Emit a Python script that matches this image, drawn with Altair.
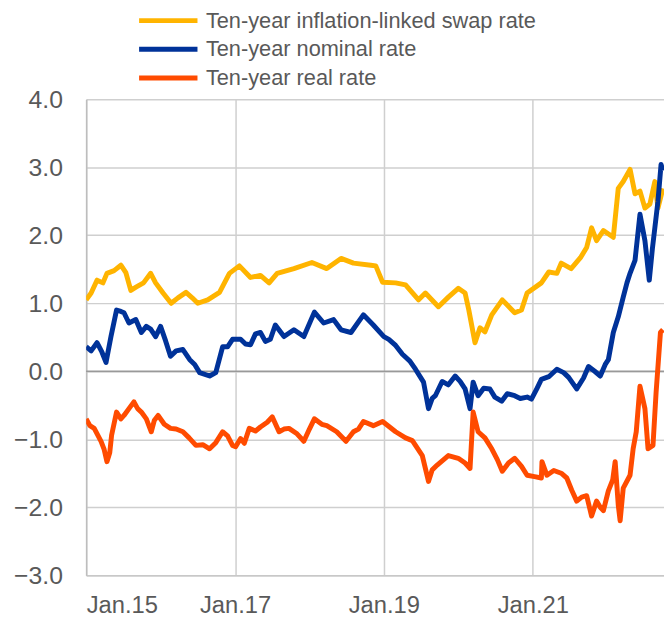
import altair as alt
import pandas as pd

series_names = ["Ten-year inflation-linked swap rate", "Ten-year nominal rate", "Ten-year real rate"]
series_colors = ["#FFB400", "#003299", "#FF4B00"]
year_ticks = [2015, 2017, 2019, 2021]

# x positions as months since January 2015
swap_months = [0, 0.8, 1.75, 2.7, 3.35, 4.5, 5.6, 6.4, 7.2, 8.1, 9.25, 10.4, 11.2, 12.4, 13.7, 14.8, 16.1, 17.1,
               18.0, 19.6, 21.5, 23.1, 24.7, 26.5, 28.1, 29.5, 30.8, 33.5, 36.4, 38.8, 41.1, 43.1, 45.9, 46.7, 47.8,
               49.9, 51.5, 53.6, 54.7, 56.8, 58.4, 60.0, 61.1, 61.7, 62.7, 63.5, 64.3, 65.4, 67.1, 69.1, 70.2, 71.1,
               73.4, 74.6, 75.9, 76.6, 78.2, 79.7, 80.7, 81.5, 82.3, 83.4, 85.0, 85.8, 86.6, 87.7, 88.5, 89.3, 90.1,
               90.9, 91.7, 92.2, 93.0]
swap_values = [1.05, 1.15, 1.34, 1.30, 1.44, 1.48, 1.56, 1.45, 1.19, 1.24, 1.30, 1.44, 1.30, 1.15, 1.00, 1.08, 1.16,
               1.08, 1.00, 1.05, 1.16, 1.44, 1.55, 1.38, 1.41, 1.30, 1.44, 1.51, 1.60, 1.51, 1.66, 1.59, 1.56, 1.55,
               1.31, 1.30, 1.27, 1.05, 1.15, 0.95, 1.09, 1.22, 1.15, 0.90, 0.42, 0.64, 0.58, 0.83, 1.05, 0.86, 0.90,
               1.15, 1.30, 1.46, 1.44, 1.59, 1.51, 1.67, 1.82, 2.11, 1.92, 2.07, 1.97, 2.69, 2.79, 2.97, 2.61, 2.65,
               2.40, 2.46, 2.79, 2.40, 2.69]

nominal_months = [0, 0.8, 1.75, 2.55, 3.2, 4.0, 4.9, 5.6, 6.1, 6.9, 8.0, 8.9, 9.7, 10.4, 11.2, 12.0, 12.8, 13.6, 14.5,
                  15.6, 16.7, 17.5, 18.3, 19.9, 20.9, 22.0, 22.8, 23.6, 24.9, 25.7, 26.5, 27.3, 28.1, 28.9, 29.7,
                  30.5, 31.9, 33.5, 35.1, 36.8, 38.3, 39.9, 41.1, 42.7, 44.7, 46.3, 48.0, 48.8, 49.9, 51.0, 52.2,
                  53.1, 54.4, 55.2, 55.8, 56.3, 57.4, 58.4, 59.5, 60.3, 61.1, 61.9, 62.4, 63.2, 64.1, 65.1, 65.9,
                  67.0, 67.9, 69.1, 70.0, 71.1, 71.8, 72.7, 73.4, 74.6, 75.9, 77.0, 77.8, 79.1, 80.2, 81.0, 82.0,
                  82.9, 83.7, 84.2, 85.0, 85.8, 86.6, 87.2, 87.7, 88.5, 89.3, 90.1, 90.8, 91.3, 91.7, 92.2, 92.7, 93.0]
nominal_values = [0.36, 0.30, 0.42, 0.28, 0.13, 0.51, 0.90, 0.88, 0.86, 0.71, 0.76, 0.57, 0.66, 0.62, 0.51, 0.66, 0.45,
                  0.22, 0.30, 0.32, 0.17, 0.10, -0.02, -0.07, -0.02, 0.36, 0.36, 0.47, 0.47, 0.40, 0.39, 0.55, 0.57,
                  0.44, 0.47, 0.68, 0.51, 0.61, 0.51, 0.87, 0.71, 0.76, 0.61, 0.57, 0.83, 0.68, 0.51, 0.47, 0.38,
                  0.25, 0.15, 0.03, -0.16, -0.55, -0.40, -0.36, -0.15, -0.20, -0.07, -0.15, -0.26, -0.55, -0.16,
                  -0.36, -0.25, -0.26, -0.38, -0.44, -0.33, -0.36, -0.40, -0.38, -0.41, -0.25, -0.12, -0.08, 0.03,
                  -0.02, -0.09, -0.26, -0.10, 0.07, 0.00, -0.07, 0.10, 0.17, 0.57, 0.80, 1.09, 1.30, 1.44, 1.63, 2.31,
                  1.92, 1.34, 1.80, 2.11, 2.50, 3.04, 2.95]

real_months = [0, 0.6, 1.3, 2.4, 2.9, 3.35, 3.8, 4.1, 4.9, 5.6, 6.1, 6.9, 7.7, 8.3, 8.9, 9.7, 10.5, 11.0, 11.6, 12.6,
               13.6, 14.5, 15.6, 16.6, 17.7, 18.8, 19.9, 20.9, 22.0, 22.8, 23.6, 24.1, 24.9, 25.5, 26.3, 27.3, 28.1,
               29.2, 30.0, 31.1, 31.9, 32.7, 34.0, 35.1, 36.0, 36.8, 38.0, 38.8, 40.4, 41.9, 43.1, 43.9, 44.7, 46.3,
               47.8, 49.9, 51.5, 52.6, 54.2, 55.2, 55.8, 56.6, 58.4, 60.0, 61.1, 61.9, 62.4, 63.2, 64.3, 65.4, 66.3,
               67.1, 68.1, 69.1, 70.2, 71.1, 72.3, 73.4, 73.5, 74.3, 75.4, 76.6, 77.5, 78.3, 79.1, 79.9, 80.7, 81.5,
               82.3, 82.9, 83.4, 84.2, 84.9, 85.3, 85.8, 86.1, 86.6, 87.7, 88.2, 88.7, 89.3, 90.1, 90.6, 91.4, 91.9,
               92.6, 93.0]
real_values = [-0.70, -0.80, -0.84, -1.03, -1.15, -1.33, -1.20, -0.94, -0.60, -0.70, -0.65, -0.55, -0.45, -0.55, -0.60,
               -0.70, -0.89, -0.72, -0.65, -0.78, -0.84, -0.85, -0.89, -0.98, -1.09, -1.08, -1.14, -1.05, -0.89,
               -0.95, -1.09, -1.11, -0.99, -1.06, -0.84, -0.88, -0.82, -0.75, -0.67, -0.89, -0.85, -0.84, -0.92,
               -1.03, -0.85, -0.70, -0.78, -0.80, -0.89, -1.03, -0.89, -0.85, -0.74, -0.80, -0.74, -0.89, -0.98,
               -1.02, -1.24, -1.62, -1.45, -1.38, -1.24, -1.28, -1.35, -1.43, -0.60, -0.89, -0.98, -1.14, -1.30,
               -1.47, -1.35, -1.28, -1.40, -1.53, -1.55, -1.57, -1.33, -1.53, -1.46, -1.50, -1.57, -1.75, -1.91,
               -1.85, -1.83, -2.13, -1.91, -2.00, -2.05, -1.76, -1.60, -1.33, -1.97, -2.20, -1.72, -1.53, -1.14,
               -0.89, -0.22, -0.55, -1.14, -1.09, -0.31, 0.57, 0.61]

start = pd.Timestamp("2015-01-01")


def to_dates(months):
    return [start + pd.Timedelta(days=m * 30.4375) for m in months]


frames = []
for name, months, values in [(series_names[0], swap_months, swap_values),
                             (series_names[1], nominal_months, nominal_values),
                             (series_names[2], real_months, real_values)]:
    frames.append(pd.DataFrame({"date": to_dates(months), "value": values, "series": name,
                                "order": range(len(values))}))
df = pd.concat(frames, ignore_index=True)

x_scale = alt.Scale(domain=[alt.DateTime(year=2015, month=1, date=1),
                            alt.DateTime(year=2022, month=10, date=7)])
y_scale = alt.Scale(domain=[-3, 4], nice=False)

lines = alt.Chart(df).mark_line(strokeWidth=5, clip=True, strokeJoin="round").encode(
    x=alt.X("date:T", scale=x_scale,
            axis=alt.Axis(values=[alt.DateTime(year=y, month=1, date=1) for y in year_ticks],
                          labelExpr="'Jan.' + timeFormat(datum.value, '%y')",
                          title=None, grid=True, ticks=False, labelPadding=19, labelFontSize=24,
                          domainColor="#c8c8c8", domainWidth=1.5)),
    y=alt.Y("value:Q", scale=y_scale,
            axis=alt.Axis(values=[-3, -2, -1, 0, 1, 2, 3, 4], format=".1f", title=None,
                          ticks=False, labelPadding=24, labelFontSize=25,
                          domainColor="#bdbdbd", domainWidth=1.5)),
    color=alt.Color("series:N", scale=alt.Scale(domain=series_names, range=series_colors),
                    legend=alt.Legend(title=None, orient="none", legendX=51, legendY=-94,
                                      symbolType="stroke", symbolSize=3481, symbolStrokeWidth=5,
                                      labelFontSize=22, labelColor="#595959", labelFont="Liberation Sans",
                                      labelLimit=600, clipHeight=29, rowPadding=0, labelOffset=6,
                                      padding=0)),
    detail="series:N",
    order="order:Q",
)

zero = alt.Chart(pd.DataFrame({"y": [0]})).mark_rule(color="#999999", strokeWidth=1.5).encode(
    y=alt.Y("y:Q", scale=y_scale))

chart = alt.layer(zero, lines).properties(
    width=584, height=481,
    autosize=alt.AutoSizeParams(type="none"),
    padding={"left": 79, "top": 89, "right": 0, "bottom": 44},
).configure_view(stroke=None).configure_axis(
    labelFont="Liberation Sans", labelColor="#595959",
    gridColor="#cfcfcf", gridWidth=1.5,
)

chart.save("out.html", embed_options={"renderer": "svg", "actions": False})
